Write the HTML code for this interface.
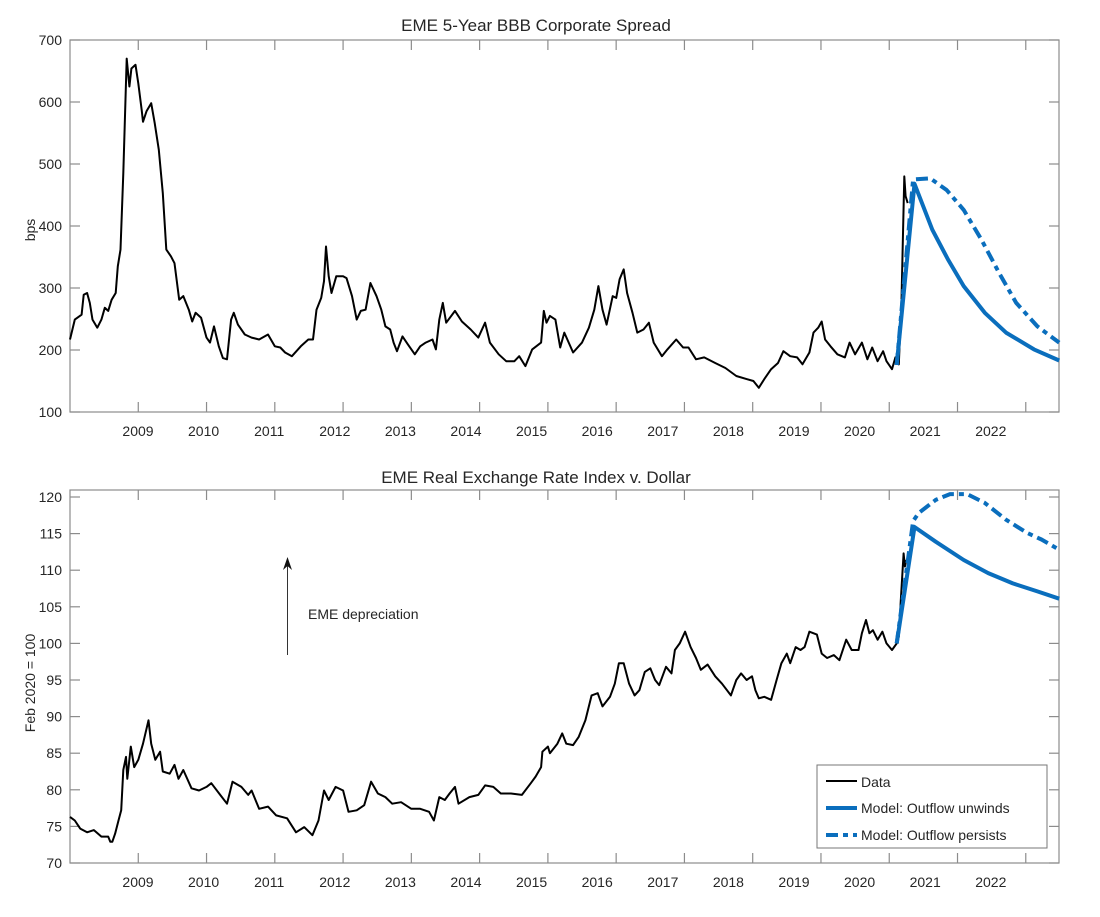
<!DOCTYPE html>
<html><head><meta charset="utf-8">
<style>
body{margin:0;background:#fff;}
svg text{font-family:"Liberation Sans",sans-serif;fill:#262626;}
</style></head>
<body>
<svg id="fig" width="1100" height="912" viewBox="0 0 1100 912" xmlns="http://www.w3.org/2000/svg">
<rect width="1100" height="912" fill="#fff"/>
<text x="536" y="31" font-size="17" text-anchor="middle">EME 5-Year BBB Corporate Spread</text>
<text x="536" y="483" font-size="17" text-anchor="middle">EME Real Exchange Rate Index v. Dollar</text>
<text transform="translate(35,230) rotate(-90)" font-size="14" text-anchor="middle">bps</text>
<text transform="translate(35,683) rotate(-90)" font-size="14" text-anchor="middle">Feb 2020 = 100</text>
<g id="top"></g>
<g id="bot"></g>
<g>
<line x1="287.5" y1="655" x2="287.5" y2="562" stroke="#333" stroke-width="1"/>
<path d="M283,570 L287.5,557 L292,570 L287.5,566 Z" fill="#111"/>
<text x="308" y="619" font-size="14">EME depreciation</text>
</g>
<g>
<rect x="817" y="765" width="230" height="83" fill="#fff" stroke="#777" stroke-width="1"/>
<line x1="826" y1="781" x2="857" y2="781" stroke="#000" stroke-width="2"/>
<text x="861" y="787" font-size="14">Data</text>
<line x1="826" y1="808" x2="857" y2="808" stroke="#0a6ebd" stroke-width="4"/>
<text x="861" y="813" font-size="14">Model: Outflow unwinds</text>
<line x1="826" y1="835" x2="857" y2="835" stroke="#0a6ebd" stroke-width="4" stroke-dasharray="12 5 5 5"/>
<text x="861" y="840" font-size="14">Model: Outflow persists</text>
</g>
</svg>
<script>
// ---- Spread chart data ----
const spreadDates=[2008.0,2008.07,2008.17,2008.2,2008.25,2008.29,2008.33,2008.4,2008.46,2008.51,2008.56,2008.61,2008.67,2008.7,2008.74,2008.78,2008.83,2008.87,2008.9,2008.96,2009.0,2009.05,2009.07,2009.12,2009.19,2009.24,2009.3,2009.36,2009.41,2009.48,2009.53,2009.6,2009.66,2009.74,2009.79,2009.84,2009.92,2010.0,2010.05,2010.11,2010.18,2010.24,2010.3,2010.36,2010.4,2010.46,2010.56,2010.66,2010.77,2010.9,2011.0,2011.08,2011.15,2011.25,2011.38,2011.49,2011.56,2011.61,2011.68,2011.72,2011.75,2011.79,2011.83,2011.9,2012.0,2012.05,2012.13,2012.2,2012.26,2012.33,2012.4,2012.49,2012.56,2012.62,2012.69,2012.74,2012.79,2012.87,2012.95,2013.05,2013.13,2013.21,2013.31,2013.36,2013.41,2013.46,2013.51,2013.64,2013.74,2013.87,2013.98,2014.08,2014.15,2014.28,2014.39,2014.51,2014.58,2014.67,2014.77,2014.9,2014.94,2014.98,2015.03,2015.11,2015.18,2015.24,2015.37,2015.5,2015.6,2015.68,2015.74,2015.8,2015.86,2015.95,2016.0,2016.05,2016.11,2016.16,2016.24,2016.31,2016.4,2016.48,2016.55,2016.67,2016.75,2016.88,2016.98,2017.06,2017.17,2017.29,2017.45,2017.6,2017.76,2017.91,2018.01,2018.09,2018.17,2018.27,2018.37,2018.45,2018.55,2018.65,2018.73,2018.83,2018.89,2018.96,2019.01,2019.06,2019.14,2019.24,2019.35,2019.42,2019.5,2019.6,2019.68,2019.75,2019.83,2019.91,2019.96,2020.04,2020.09,2020.14,2020.18,2020.22,2020.24,2020.27];
const spreadValues=[217,249,257,289,292,276,249,236,249,268,263,281,292,335,362,485,670,625,654,660,630,587,568,585,598,566,523,453,362,351,340,281,287,265,246,260,252,220,212,238,206,187,185,249,260,241,225,220,217,225,206,204,196,190,206,217,217,265,284,311,367,319,292,319,319,316,287,249,263,265,308,287,265,238,233,212,198,222,209,193,206,212,217,201,249,276,244,263,246,233,220,244,212,193,182,182,190,174,201,212,263,244,255,249,204,228,196,212,236,265,303,265,241,287,284,314,330,292,260,228,233,244,212,190,201,217,204,204,185,188,179,171,158,153,150,139,153,169,179,198,190,188,177,196,228,236,246,217,206,193,188,212,193,212,185,204,182,198,182,169,188,177,281,480,448,437];
const spreadUnwindDates=[2020.11,2020.37,2020.63,2020.86,2021.09,2021.4,2021.71,2022.12,2022.49];
const spreadUnwindValues=[176,468,394,346,303,260,228,201,183];
const spreadPersistDates=[2020.11,2020.35,2020.6,2020.84,2021.09,2021.35,2021.61,2021.86,2022.17,2022.49];
const spreadPersistValues=[176,475,477,458,426,378,324,276,238,212];
const spreadTicks=[100,200,300,400,500,600,700];
// ---- Exchange rate chart data ----
const rerDates=[2008.0,2008.07,2008.15,2008.25,2008.35,2008.46,2008.56,2008.59,2008.62,2008.66,2008.71,2008.75,2008.78,2008.82,2008.84,2008.89,2008.94,2009.0,2009.07,2009.15,2009.19,2009.25,2009.32,2009.36,2009.46,2009.53,2009.59,2009.66,2009.78,2009.89,2010.0,2010.07,2010.2,2010.3,2010.38,2010.51,2010.61,2010.66,2010.77,2010.9,2011.02,2011.18,2011.31,2011.43,2011.55,2011.64,2011.72,2011.79,2011.89,2012.0,2012.08,2012.2,2012.31,2012.41,2012.51,2012.62,2012.72,2012.85,2013.0,2013.13,2013.26,2013.33,2013.41,2013.49,2013.56,2013.64,2013.69,2013.85,2013.98,2014.08,2014.2,2014.31,2014.46,2014.62,2014.75,2014.82,2014.9,2014.92,2015.0,2015.03,2015.14,2015.21,2015.27,2015.37,2015.45,2015.55,2015.64,2015.73,2015.8,2015.91,2015.98,2016.04,2016.11,2016.19,2016.27,2016.34,2016.42,2016.5,2016.57,2016.63,2016.73,2016.81,2016.86,2016.93,2017.01,2017.09,2017.17,2017.24,2017.34,2017.45,2017.55,2017.68,2017.76,2017.83,2017.91,2017.99,2018.04,2018.09,2018.17,2018.27,2018.35,2018.42,2018.5,2018.55,2018.63,2018.7,2018.76,2018.83,2018.94,2019.01,2019.09,2019.19,2019.27,2019.37,2019.45,2019.55,2019.6,2019.66,2019.71,2019.76,2019.83,2019.9,2019.96,2020.04,2020.11,2020.14,2020.17,2020.21,2020.23,2020.25];
const rerValues=[76.3,75.8,74.7,74.2,74.5,73.6,73.6,72.9,72.9,74.0,75.8,77.2,82.7,84.5,81.5,85.9,83.1,84.1,86.3,89.5,86.3,84.1,85.2,82.5,82.2,83.4,81.5,82.7,80.2,79.9,80.4,80.9,79.3,78.1,81.1,80.4,79.3,79.9,77.4,77.7,76.5,76.1,74.2,74.9,73.8,75.8,79.9,78.6,80.4,79.9,77.0,77.2,77.9,81.1,79.5,79.0,78.1,78.3,77.4,77.4,77.0,75.8,79.0,78.6,79.5,80.4,78.1,79.0,79.3,80.6,80.4,79.5,79.5,79.3,80.9,81.8,83.1,85.2,85.9,85.0,86.3,87.7,86.3,86.1,87.2,89.5,92.9,93.2,91.4,92.7,94.5,97.3,97.3,94.5,92.9,93.6,96.1,96.6,95.0,94.3,96.8,95.9,99.1,100.0,101.6,99.5,98.0,96.4,97.1,95.5,94.5,92.9,95.0,95.9,95.0,95.5,93.6,92.5,92.7,92.3,95.0,97.3,98.6,97.3,99.5,99.1,99.5,101.6,101.2,98.6,98.0,98.4,97.7,100.5,99.1,99.1,101.4,103.2,101.4,101.8,100.5,101.6,100.0,99.1,100.0,100.9,105.9,112.3,110.5,111.4];
const rerUnwindDates=[2020.11,2020.37,2020.68,2021.09,2021.45,2021.81,2022.17,2022.49];
const rerUnwindValues=[100.0,115.9,113.9,111.4,109.6,108.2,107.1,106.1];
const rerPersistDates=[2020.11,2020.35,2020.43,2020.68,2020.89,2021.14,2021.4,2021.71,2022.02,2022.23,2022.49];
const rerPersistValues=[100.0,116.7,117.8,119.6,120.4,120.4,119.2,116.9,115.1,114.2,112.8];
const rerTicks=[70,75,80,85,90,95,100,105,110,115,120];
const yearLabels=['2009','2010','2011','2012','2013','2014','2015','2016','2017','2018','2019','2020','2021','2022'];

const NS='http://www.w3.org/2000/svg';
const X0=70,X1=1059,PXY=68.27;
function xs(yr){return X0+(yr-2008)*PXY;}
function mk(tag,attrs,parent){const e=document.createElementNS(NS,tag);for(const k in attrs)e.setAttribute(k,attrs[k]);parent.appendChild(e);return e;}
function pathD(dates,vals,ys){return dates.map((d,i)=>(i?'L':'M')+xs(d).toFixed(1)+','+ys(vals[i]).toFixed(1)).join('');}

function drawChart(g,top,bot,vmin,vmax,tickVals,dataD,dataV,uD,uV,pD,pV,prefix){
  const ys=v=>bot-(v-vmin)/(vmax-vmin)*(bot-top);
  const ax=mk('g',{},g);
  
  
  mk('rect',{x:X0,y:top,width:X1-X0,height:bot-top,fill:'none',stroke:'#8c8c8c','stroke-width':1.2},ax);
  for(let i=0;i<14;i++){
    const x=X0+(i+1)*PXY;
    if(x<X1){
      mk('line',{x1:x,y1:bot,x2:x,y2:bot-10,stroke:'#8c8c8c','stroke-width':1.2},ax);
      mk('line',{x1:x,y1:top,x2:x,y2:top+10,stroke:'#8c8c8c','stroke-width':1.2},ax);
    }
  }
  yearLabels.forEach((lab,i)=>{
    const t=mk('text',{x:138+i*65.6,y:bot+24,'font-size':14,'text-anchor':'middle'},ax);
    t.textContent=lab;
    
    
  });
  tickVals.forEach(v=>{
    const y=ys(v);
    mk('line',{x1:X0,y1:y,x2:X0+10,y2:y,stroke:'#8c8c8c','stroke-width':1.2},ax);
    mk('line',{x1:X1,y1:y,x2:X1-10,y2:y,stroke:'#8c8c8c','stroke-width':1.2},ax);
    const t=mk('text',{x:X0-8,y:y+5,'font-size':14,'text-anchor':'end'},ax);
    t.textContent=v;
    
    
  });
  const d=mk('path',{d:pathD(dataD,dataV,ys),fill:'none',stroke:'#000','stroke-width':2,'stroke-linejoin':'round'},g);
  
  
  const p=mk('path',{d:pathD(pD,pV,ys),fill:'none',stroke:'#0a6ebd','stroke-width':4,'stroke-dasharray':'12 5 5 5','stroke-linejoin':'round'},g);
  
  
  const u=mk('path',{d:pathD(uD,uV,ys),fill:'none',stroke:'#0a6ebd','stroke-width':4,'stroke-linejoin':'round'},g);
  
  
}
drawChart(document.getElementById('top'),40,412,100,700,spreadTicks,spreadDates,spreadValues,spreadUnwindDates,spreadUnwindValues,spreadPersistDates,spreadPersistValues,'spread');
drawChart(document.getElementById('bot'),490,863,70,70+(863-490)/7.32,rerTicks,rerDates,rerValues,rerUnwindDates,rerUnwindValues,rerPersistDates,rerPersistValues,'rer');
</script>
</body></html>
